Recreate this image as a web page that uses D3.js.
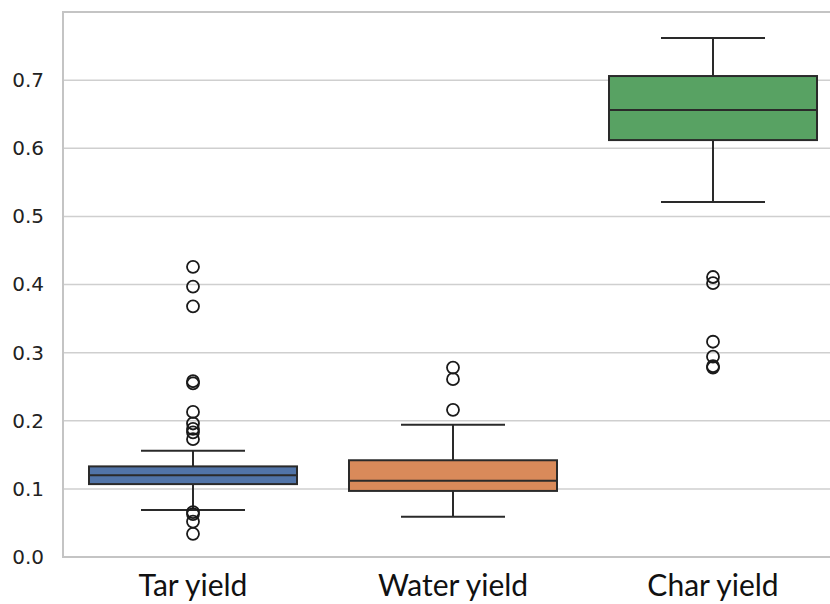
<!DOCTYPE html>
<html><head><meta charset="utf-8">
<script src="https://cdn.jsdelivr.net/npm/d3@7"></script>
<style>body{margin:0;background:#fff}svg{display:block}</style>
</head><body><svg id="c" width="830" height="604"></svg>
<script>
const categories = ["Tar yield", "Water yield", "Char yield"];
const q1 = [0.107, 0.097, 0.612];
const medians = [0.120, 0.112, 0.656];
const q3 = [0.133, 0.142, 0.706];
const whiskerLow = [0.069, 0.059, 0.521];
const whiskerHigh = [0.156, 0.194, 0.762];
const outliers = [
  [0.426, 0.397, 0.368, 0.258, 0.255, 0.213, 0.196, 0.188, 0.183, 0.173, 0.066, 0.063, 0.052, 0.034],
  [0.278, 0.261, 0.216],
  [0.411, 0.402, 0.316, 0.294, 0.280, 0.278]
];
const colors = ["#5174a8", "#d98a5a", "#58a263"];
const yTicks = [0.0, 0.1, 0.2, 0.3, 0.4, 0.5, 0.6, 0.7];

(function () {
const svg = d3.select("#c");
const mL = 63, mR = 843, mT = 12, mB = 557;
const x = d3.scaleBand().domain(categories).range([mL, mR]).paddingInner(0).paddingOuter(0);
const y = d3.scaleLinear().domain([0, 0.8]).range([mB, mT]);

// grid
svg.append("g").selectAll("line").data(yTicks.slice(1)).join("line")
  .attr("x1", mL).attr("x2", 830).attr("y1", d => y(d)).attr("y2", d => y(d))
  .attr("stroke", "#cfcfcf").attr("stroke-width", 1.5);

// frame
svg.append("path").attr("d", `M830,${mT}H${mL}V${mB}H830`)
  .attr("fill", "none").attr("stroke", "#c4c4c4").attr("stroke-width", 2);

// y axis labels
const yAxis = d3.axisLeft(y).tickValues(yTicks).tickFormat(d3.format(".1f")).tickSize(0).tickPadding(19);
const ga = svg.append("g").attr("transform", `translate(${mL},0)`).call(yAxis);
ga.select(".domain").remove();
ga.selectAll("text").attr("font-family", "DejaVu Sans, sans-serif").attr("font-size", 20).attr("fill", "#222");

// x labels
const xAxis = d3.axisBottom(x).tickSize(0).tickPadding(18);
const gx = svg.append("g").attr("transform", `translate(0,${mB})`).call(xAxis);
gx.select(".domain").remove();
gx.selectAll("text").attr("font-family", "Lato, sans-serif").attr("font-size", 30).attr("fill", "#111");

const bw = x.bandwidth() * 0.8;
const cw = bw * 0.5;
const stroke = "#2a2a2a";
categories.forEach((c, i) => {
  const cx = x(c) + x.bandwidth() / 2;
  const g = svg.append("g");
  g.append("line").attr("x1", cx).attr("x2", cx).attr("y1", y(q3[i])).attr("y2", y(whiskerHigh[i])).attr("stroke", stroke).attr("stroke-width", 2);
  g.append("line").attr("x1", cx).attr("x2", cx).attr("y1", y(q1[i])).attr("y2", y(whiskerLow[i])).attr("stroke", stroke).attr("stroke-width", 2);
  g.append("line").attr("x1", cx - cw / 2).attr("x2", cx + cw / 2).attr("y1", y(whiskerHigh[i])).attr("y2", y(whiskerHigh[i])).attr("stroke", stroke).attr("stroke-width", 2);
  g.append("line").attr("x1", cx - cw / 2).attr("x2", cx + cw / 2).attr("y1", y(whiskerLow[i])).attr("y2", y(whiskerLow[i])).attr("stroke", stroke).attr("stroke-width", 2);
  g.append("rect").attr("x", cx - bw / 2).attr("width", bw)
    .attr("y", y(q3[i])).attr("height", y(q1[i]) - y(q3[i]))
    .attr("fill", colors[i]).attr("stroke", stroke).attr("stroke-width", 2);
  g.append("line").attr("x1", cx - bw / 2).attr("x2", cx + bw / 2).attr("y1", y(medians[i])).attr("y2", y(medians[i])).attr("stroke", stroke).attr("stroke-width", 2);
  g.selectAll("circle").data(outliers[i]).join("circle")
    .attr("cx", cx).attr("cy", d => y(d)).attr("r", 6)
    .attr("fill", "none").attr("stroke", "#1a1a1a").attr("stroke-width", 1.8);
});
})();
</script></body></html>
